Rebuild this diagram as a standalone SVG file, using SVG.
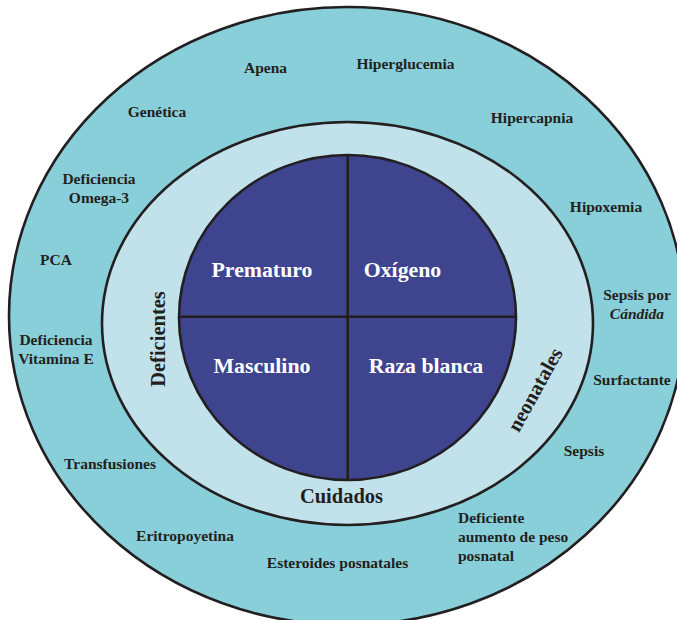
<svg xmlns="http://www.w3.org/2000/svg" width="677" height="620" viewBox="0 0 677 620">
<style>
.ring{stroke:#231F20;stroke-width:2.6}
.lbl{font-family:"Liberation Serif","Times New Roman",serif;font-weight:bold;font-size:15.5px;fill:#231F20;text-anchor:middle}
.lft{text-anchor:start}
.mid{font-family:"Liberation Serif","Times New Roman",serif;font-weight:bold;font-size:20.5px;fill:#231F20;text-anchor:middle}
.in{font-family:"Liberation Serif","Times New Roman",serif;font-weight:bold;font-size:21.8px;fill:#FFFFFF;text-anchor:middle}
</style>
<rect width="677" height="620" fill="#FFFFFF"/>
<g id="outer-ring">
<ellipse class="ring" cx="347" cy="316" rx="338" ry="309" fill="#89CFDA"/>
</g>
<g id="middle-ring">
<ellipse class="ring" cx="347.5" cy="323.5" rx="245.5" ry="201.5" fill="#C1E1EB"/>
</g>
<g id="inner-circle">
<ellipse class="ring" cx="347.5" cy="317.5" rx="168.5" ry="162.5" fill="#3E448E"/>
</g>
<g id="connectors">
<line class="ring" x1="347.7" y1="155" x2="347.7" y2="480"/>
<line class="ring" x1="179" y1="316.7" x2="516" y2="316.7"/>
</g>
<g id="quadrants">
<text class="in" x="262" y="277">Prematuro</text>
<text class="in" x="402.5" y="277">Oxígeno</text>
<text class="in" x="262" y="373">Masculino</text>
<text class="in" x="426" y="373">Raza blanca</text>
</g>
<g id="middle-labels">
<text class="mid" x="341.5" y="503">Cuidados</text>
<text class="mid" transform="translate(164.5,339) rotate(-90)" x="0" y="0">Deficientes</text>
<text class="mid" transform="translate(541,393) rotate(-61)" x="0" y="0">neonatales</text>
</g>
<g id="outer-labels">
<text class="lbl" x="265.5" y="73">Apena</text>
<text class="lbl" x="405.5" y="69">Hiperglucemia</text>
<text class="lbl" x="157" y="117">Genética</text>
<text class="lbl" x="532" y="123">Hipercapnia</text>
<text class="lbl" x="99" y="184">Deficiencia</text>
<text class="lbl" x="99" y="202.5">Omega-3</text>
<text class="lbl" x="606" y="212">Hipoxemia</text>
<text class="lbl" x="56" y="265">PCA</text>
<text class="lbl" x="637" y="300">Sepsis por</text>
<text class="lbl" x="637" y="319" font-style="italic">Cándida</text>
<text class="lbl" x="56" y="345">Deficiencia</text>
<text class="lbl" x="56" y="363.5">Vitamina E</text>
<text class="lbl" x="632" y="385">Surfactante</text>
<text class="lbl" x="584" y="456">Sepsis</text>
<text class="lbl" x="110" y="469">Transfusiones</text>
<text class="lbl lft" x="458" y="523">Deficiente</text>
<text class="lbl lft" x="458" y="542">aumento de peso</text>
<text class="lbl lft" x="458" y="561">posnatal</text>
<text class="lbl" x="185" y="541">Eritropoyetina</text>
<text class="lbl" x="337.5" y="568">Esteroides posnatales</text>
</g>
</svg>
